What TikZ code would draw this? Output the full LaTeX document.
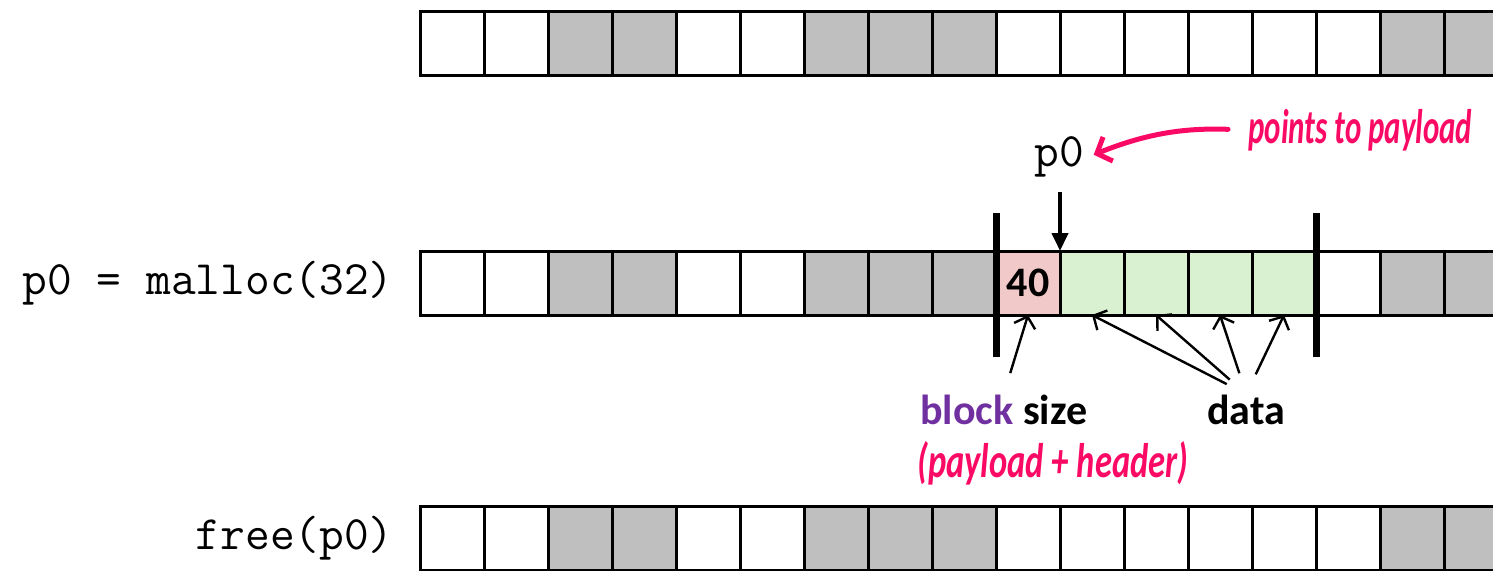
\documentclass[tikz,border=0pt]{standalone}
\usepackage{fontspec}
\setmainfont{Carlito}
\setsansfont{Carlito}
\usetikzlibrary{arrows.meta}
\definecolor{cellgray}{RGB}{191,191,191}
\definecolor{headpink}{RGB}{242,201,201}
\definecolor{datagreen}{RGB}{217,241,209}
\definecolor{blockpurple}{RGB}{112,48,160}
\definecolor{inkpink}{RGB}{250,10,100}

\begin{document}
\begin{tikzpicture}[x=0.5pt, y=0.5pt,
    cell/.style={draw, line width=1.5pt, minimum size=32pt, inner sep=0pt, outer sep=0pt},
    code/.style={font=\ttfamily\fontsize{24pt}{28pt}\selectfont, inner sep=0pt},
    tag/.style={font=\sffamily\bfseries\fontsize{21pt}{25pt}\selectfont, inner sep=0pt},
    ink/.style={text=inkpink, font=\sffamily\bfseries\itshape\fontsize{18pt}{22pt}\selectfont, inner sep=0pt},
    pointer/.style={-{Triangle[length=9pt,width=8pt]}, line width=2pt},
    callout/.style={-{Straight Barb[length=5pt,width=11pt]}, line width=1.2pt},
    inkarrow/.style={-{Straight Barb[length=6pt,width=13pt]}, line width=2.5pt, line cap=round, draw=inkpink},
    bar/.style={line width=3.5pt}]
  % 1. picture frame (rows run past the right edge)
  \clip (0,0) rectangle (1493,-570);

  % 2. heap rows: before, after malloc, after free
  \foreach \i/\f in {0/white,1/white,2/cellgray,3/cellgray,4/white,5/white,6/cellgray,7/cellgray,8/cellgray,
                     9/white,10/white,11/white,12/white,13/white,14/white,15/cellgray,16/cellgray}{
    \node[cell, fill=\f] (top-\i) at (452+64*\i, -43) {};
    \node[cell, fill=\f] (bot-\i) at (452+64*\i, -538) {};
  }
  \foreach \i/\f in {0/white,1/white,2/cellgray,3/cellgray,4/white,5/white,6/cellgray,7/cellgray,8/cellgray,
                     10/datagreen,11/datagreen,12/datagreen,13/datagreen,14/white,15/cellgray,16/cellgray}{
    \node[cell, fill=\f] (mid-\i) at (452+64*\i, -283) {};
  }
  \node[cell, fill=headpink, font=\sffamily\bfseries\fontsize{21pt}{25pt}\selectfont] (mid-9) at (1028, -283) {40};

  % 3. block boundaries
  \draw[bar] ([yshift=19pt]mid-9.north west) -- ([yshift=-21pt]mid-9.south west);
  \draw[bar] ([yshift=19pt]mid-13.north east) -- ([yshift=-21pt]mid-13.south east);

  % 4. code labels
  \node[code, anchor=east] (mallocl) at (394, -283) {p0 = malloc(32)};
  \node[code, anchor=east] (freel) at (394, -538) {free(p0)};
  \node[code, inner sep=2pt] (p0lbl) at (1059, -157) {p0};
  \draw[pointer, shorten <=5pt] (p0lbl.south -| mid-10.north west) -- (mid-10.north west);

  % 5. block size / data labels and their arrows
  \node[tag, anchor=base west] (bsize) at (920, -424) {\textcolor{blockpurple}{block} size};
  \node[tag, anchor=base west] (datal) at (1207, -424) {data};
  \draw[callout, shorten <=11pt] (bsize.north) -- (mid-9.south);
  \foreach \j in {10,...,13}
    \draw[callout, shorten <=11pt] (datal.north) -- (mid-\j.south);

  % 6. hand notes
  \node[ink, anchor=west] (pnote) at (1248, -130) {\scalebox{0.86}[1.35]{points to payload}};
  \node[ink, anchor=west] (hnote) at (917, -463) {\scalebox{0.96}[1.35]{(payload + header)}};
  \draw[inkarrow, shorten <=10pt, shorten >=3pt] (pnote.west) to[out=178, in=22] (p0lbl.east);
\end{tikzpicture}
\end{document}
